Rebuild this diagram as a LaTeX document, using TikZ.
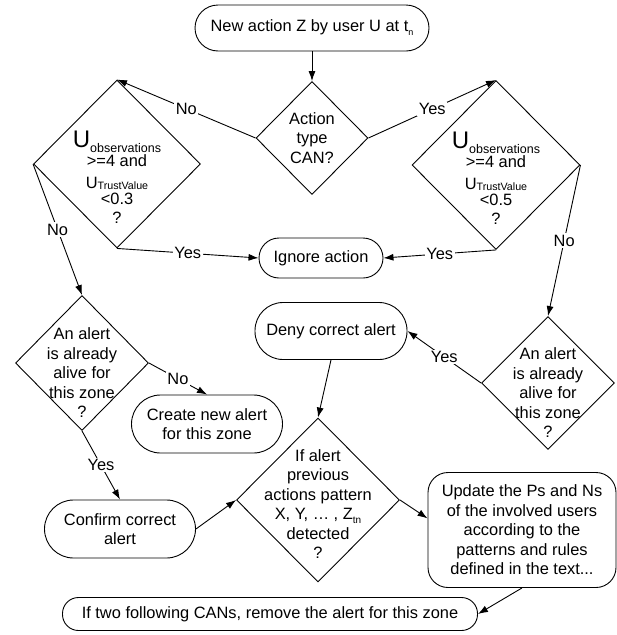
\documentclass[tikz,border=0pt]{standalone}
\usepackage{fontspec}
\setmainfont{Liberation Sans}
\usepackage{tikz}
\usetikzlibrary{shapes.geometric,arrows.meta}

\newcommand{\lowtext}[2][10]{\raisebox{-4pt}{\fontsize{#1}{#1}\selectfont #2}}
\setlength{\lineskiplimit}{-50pt}

\tikzset{
  term/.style={rectangle, draw, line width=0.9pt, rounded corners=#1, align=center, inner sep=2pt},
  dec/.style={diamond, draw, line width=0.9pt, inner sep=0pt},
  dtext/.style={align=center, inner sep=0pt},
  flow/.style={-{Latex[length=10pt,width=7pt]}, line width=0.9pt},
  ans/.style={fill=white, inner sep=1.5pt},
}

\begin{document}
\begin{tikzpicture}[x=1pt, y=-1pt, font=\fontsize{16.4}{19.5}\selectfont]
\useasboundingbox (0,0) rectangle (617,635);
% Start
\node[term=23pt, minimum width=234pt, minimum height=46pt] (start) at (312,28) {New action Z by user U at t\lowtext[9]{n}};
\node[dec, minimum width=112pt, minimum height=113pt] (cantype) at (312,138) {};
\node[dtext] (cantypetxt) at (cantype) {Action\\type\\CAN?};

% Soglie
\node[dec, minimum width=167pt, minimum height=168pt] (obsno) at (117,164) {};
\node[dtext, yshift=-13pt] (obsnotxt) at (obsno)
  {{\fontsize{24}{24}\selectfont U}\raisebox{-5pt}{\fontsize{12.5}{12.5}\selectfont observations}\\
   >=4 and\\[2pt]
   U\raisebox{-1pt}{\fontsize{10.7}{10.7}\selectfont TrustValue}\\[-3pt]
   <0.3\\[-1pt]
   ?};
\node[dec, minimum width=168pt, minimum height=169pt] (obsyes) at (496,165) {};
\node[dtext, yshift=-13pt] (obsyestxt) at (obsyes)
  {{\fontsize{24}{24}\selectfont U}\raisebox{-5pt}{\fontsize{12.5}{12.5}\selectfont observations}\\
   >=4 and\\[2pt]
   U\raisebox{-1pt}{\fontsize{10.7}{10.7}\selectfont TrustValue}\\[-3pt]
   <0.5\\[-1pt]
   ?};
\node[term=20pt, minimum width=124pt, minimum height=40pt] (ignore) at (321,258) {Ignore action};

% Allerte
\node[dec, minimum width=133pt, minimum height=135pt] (alertno) at (82,363) {};
\node[dtext, yshift=-10pt] (alertnotxt) at (alertno) {An alert\\is already\\alive for\\this zone\\?};
\node[term=29pt, minimum width=151pt, minimum height=58pt] (create) at (207,424) {Create new alert\\for this zone};
\node[term=29pt, minimum width=151pt, minimum height=58pt] (confirm) at (120,529) {Confirm correct\\alert};
\node[dec, minimum width=133pt, minimum height=133pt] (alertyes) at (548,383) {};
\node[dtext, yshift=-10pt] (alertyestxt) at (alertyes) {An alert\\is already\\alive for\\this zone\\?};
\node[term=28pt, minimum width=152pt, minimum height=57pt] (deny) at (331,331) {Deny correct alert};

% Pattern
\node[dec, minimum width=163pt, minimum height=164pt] (pattern) at (318,500) {};
\node[dtext, yshift=-4pt] (patterntxt) at (pattern) {If alert\\previous\\actions pattern\\X, Y, … , Z\lowtext{tn}\\detected\\?};
\node[term=20pt, minimum width=188pt, minimum height=115pt] (update) at (522,530)
  {Update the Ps and Ns\\of the involved users\\according to the\\patterns and rules\\defined in the text...};
\node[term=16pt, minimum width=415pt, minimum height=33pt] (remove) at (270,614) {If two following CANs, remove the alert for this zone};

\draw[flow] (start.south) -- (cantype.north);
\draw[flow] (cantype.west) -- node[ans] {No} (obsno.north);
\draw[flow] (cantype.east) -- node[ans] {Yes} (obsyes.north);
\draw[flow] (obsno.south) -- node[ans] {Yes} (ignore.west);
\draw[flow] (obsyes.south) -- node[ans] {Yes} (ignore.east);
\draw[flow] (obsno.west) -- node[ans] {No} (alertno.north);
\draw[flow] (obsyes.east) -- node[ans] {No} (alertyes.north);
\draw[flow] (alertno.east) -- node[ans] {No} (create.north);
\draw[flow] (alertno.south) -- node[ans] {Yes} (confirm.north);
\draw[flow] (alertyes.west) -- node[ans] {Yes} (deny.east);
\draw[flow] (confirm.east) -- (pattern.west);
\draw[flow] (deny.south) -- (pattern.north);
\draw[flow] (pattern.east) -- (update.173);
\draw[flow] (update.south) -- (remove.east);
\end{tikzpicture}
\end{document}
